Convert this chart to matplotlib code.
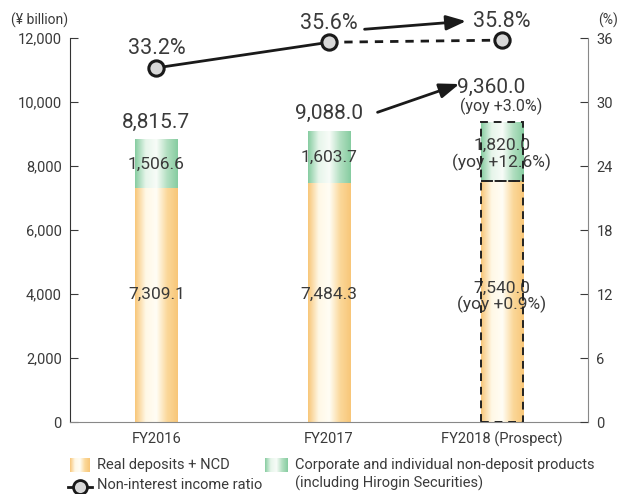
import numpy as np
import matplotlib
matplotlib.use('Agg')
import matplotlib.pyplot as plt
from matplotlib.colors import LinearSegmentedColormap
from matplotlib.patches import Rectangle
from matplotlib.lines import Line2D

plt.rcParams['font.family'] = ['Roboto', 'DejaVu Sans']

years = ['FY2016', 'FY2017', 'FY2018 (Prospect)']
deposits = [7309.1, 7484.3, 7540.0]
products = [1506.6, 1603.7, 1820.0]
totals = [8815.7, 9088.0, 9360.0]
ratio = [33.2, 35.6, 35.8]
dep_labels = ['7,309.1', '7,484.3', '7,540.0\n(yoy +0.9%)']
prod_labels = ['1,506.6', '1,603.7', '1,820.0\n(yoy +12.6%)']
total_labels = ['8,815.7', '9,088.0', '9,360.0']
ratio_labels = ['33.2%', '35.6%', '35.8%']

orange = LinearSegmentedColormap.from_list('o', ['#f8c678', '#fff8e6', '#fffdf5', '#fbd89a', '#f8c678'])
green = LinearSegmentedColormap.from_list('g', ['#86cca0', '#e6f5ea', '#f8fcf8', '#b2dfc1', '#86cca0'])
grad = np.linspace(0, 1, 256).reshape(1, -1)
tc = '#3a3a3a'

fig = plt.figure(figsize=(6.3, 4.94), dpi=100)
ax = fig.add_axes([70/630, 1-422/494, 518/630, 384/494])
ax2 = ax.twinx()

x = np.arange(len(years))
w = 0.245
for i in range(len(years)):
    ax.imshow(grad, cmap=orange, aspect='auto', zorder=2,
              extent=[x[i]-w/2, x[i]+w/2, 0, deposits[i]])
    ax.imshow(grad, cmap=green, aspect='auto', zorder=2,
              extent=[x[i]-w/2, x[i]+w/2, deposits[i], totals[i]])
    shift = 420 if i == 2 else 0
    ax.text(x[i], 4000 + shift, dep_labels[i], ha='center', va='top' if i == 2 else 'center',
            fontsize=12.5, color=tc, zorder=3, linespacing=1.05)
    ax.text(x[i], deposits[i] + products[i]/2 + shift, prod_labels[i],
            ha='center', va='top' if i == 2 else 'center', fontsize=12.5,
            color=tc, zorder=3, linespacing=1.05)

# dashed outline for prospect
for b, h in [(0, deposits[2]), (deposits[2], products[2])]:
    ax.add_patch(Rectangle((x[2]-w/2, b), w, h, fill=False, ec='#222222',
                           lw=1.4, ls=(0, (4, 3)), zorder=4))

ax.text(x[0], totals[0] + 250, total_labels[0], ha='center', va='bottom', fontsize=15, color=tc)
ax.text(x[1], totals[1] + 250, total_labels[1], ha='center', va='bottom', fontsize=15, color=tc)
ax.text(x[2] - 0.06, 10150, total_labels[2], ha='center', va='bottom', fontsize=15, color=tc)
ax.text(x[2], 9580, '(yoy +3.0%)', ha='center', va='bottom', fontsize=11.5, color=tc)
ax.annotate('', xy=(1.77, 10590), xytext=(1.266, 9650),
            arrowprops=dict(arrowstyle='-|>,head_length=1.2,head_width=0.45', color='#1a1a1a', lw=2))

ax.set_xlim(-0.5, 2.5)
ax.set_ylim(0, 12000)
ax.set_yticks(np.arange(0, 12001, 2000))
ax.set_yticklabels([f'{v:,}' for v in range(0, 12001, 2000)])
ax.set_xticks(x)
ax.set_xticklabels(years)
ax.tick_params(axis='y', direction='in', length=6, labelsize=10.5, colors=tc, pad=6)
ax.tick_params(axis='x', length=0, labelsize=10.5, colors=tc, pad=7)
ax.spines['top'].set_visible(False)
ax.spines['right'].set_visible(False)
ax.spines['left'].set_color('#333333')
ax.spines['bottom'].set_color('#888888')

ax2.set_ylim(0, 36)
ax2.set_yticks(np.arange(0, 37, 6))
ax2.tick_params(axis='y', direction='in', length=6, labelsize=10.5, colors=tc, pad=6)
ax2.spines['top'].set_visible(False)
ax2.spines['left'].set_visible(False)
ax2.spines['bottom'].set_visible(False)
ax2.spines['right'].set_color('#888888')

ax2.plot(x[:2], ratio[:2], color='#1a1a1a', lw=2, zorder=5)
ax2.plot(x[1:], ratio[1:], color='#1a1a1a', lw=2, ls=(0, (3, 2.5)), zorder=5)
ax2.plot(x, ratio, 'o', ms=11, mfc='#d8d8d8', mec='#1a1a1a', mew=2.2, zorder=6, clip_on=False)
ax2.text(x[0], ratio[0] + 0.85, ratio_labels[0], ha='center', va='bottom', fontsize=15.5, color=tc)
ax2.text(x[1], ratio[1] + 0.75, ratio_labels[1], ha='center', va='bottom', fontsize=15.5, color=tc)
ax2.text(x[2], ratio[2] + 0.75, ratio_labels[2], ha='center', va='bottom', fontsize=15.5, color=tc)
ax2.annotate('', xy=(1.81, 37.6), xytext=(1.19, 36.8), annotation_clip=False,
             arrowprops=dict(arrowstyle='-|>,head_length=1.2,head_width=0.45', color='#1a1a1a', lw=2))

fig.text(40/630, 1-20/494, '(¥ billion)', ha='center', va='center', fontsize=10, color=tc)
fig.text(608/630, 1-20/494, '(%)', ha='center', va='center', fontsize=10, color=tc)

# legend
lax = fig.add_axes([0, 0, 1, 1], zorder=-1)
lax.imshow(grad, cmap=orange, aspect='auto', extent=[70, 90, 472, 458])
lax.imshow(grad, cmap=green, aspect='auto', extent=[265, 288, 472, 458])
lax.set_xlim(0, 630)
lax.set_ylim(494, 0)
lax.axis('off')
lax.text(97, 465, 'Real deposits + NCD', va='center', fontsize=10.5, color=tc)
lax.text(295, 465, 'Corporate and individual non-deposit products', va='center', fontsize=10.5, color=tc)
lax.text(295, 483, '(including Hirogin Securities)', va='center', fontsize=10.5, color=tc)
lax.add_line(Line2D([68, 92], [487, 487], color='#1a1a1a', lw=2))
lax.plot([80], [487], 'o', ms=10, mfc='#d8d8d8', mec='#1a1a1a', mew=2)
lax.text(97, 485, 'Non-interest income ratio', va='center', fontsize=10.5, color=tc)

fig.savefig('out.png', dpi=100)
